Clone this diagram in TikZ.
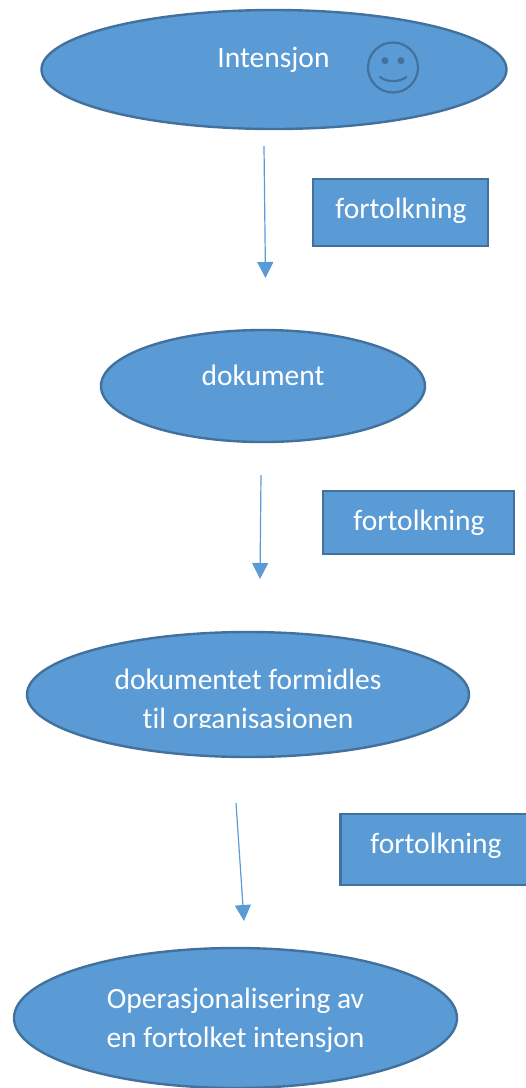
\documentclass[tikz,border=0pt]{standalone}
\usepackage{fontspec}
\setmainfont[Ligatures=NoCommon]{Carlito}
\usetikzlibrary{shapes.geometric,arrows.meta}

\definecolor{boxfill}{RGB}{91,155,213}
\definecolor{boxline}{RGB}{65,113,156}

\tikzset{
  oval/.style={ellipse,draw=boxline,fill=boxfill,line width=2.4pt,inner sep=0pt},
  tag/.style={rectangle,draw=boxline,fill=boxfill,line width=2.4pt,inner sep=0pt},
  lab/.style={text=white,inner sep=0pt,font=\fontsize{29.5}{29.5}\selectfont,anchor=base},
  flow/.style={draw=boxfill,line width=1.2pt,-{Triangle[length=16pt,width=16pt]}},
  face/.style={draw=boxline,line width=2.2pt}
}

\begin{document}
\begin{tikzpicture}[x=1pt,y=1pt,yscale=-1,xscale=1]
\useasboundingbox (0,0) rectangle (526,1088);

% ovals
\node [oval,minimum width=465pt,minimum height=119pt] (intensjon) at (274,69.5) {};
\node [oval,minimum width=324pt,minimum height=112pt] (dokument) at (263,386) {};
\node [oval,minimum width=442pt,minimum height=125pt] (formidles) at (248,694.5) {};
\node [oval,minimum width=443pt,minimum height=140pt] (operasjon) at (235.5,1018) {};

% boxes
\node [tag,minimum width=175pt,minimum height=67pt] (tolk1) at (400.5,212.5) {};
\node [tag,minimum width=191pt,minimum height=63pt] (tolk2) at (418.5,522.5) {};
\node [tag,minimum width=200pt,minimum height=71pt] (tolk3) at (440.5,849.5) {};

% smiley
\draw [face] (393,67.5) circle (25);
\fill [boxline] (385,60.7) circle (3.5);
\fill [boxline] (401,60.7) circle (3.5);
\draw [face,line cap=round] (380,77) .. controls (387,82.5) and (399,82.5) .. (406.5,77);

% text
\node [lab] (t1) at (273.5,67) {Intensjon};
\node [lab] (t2) at (401,218) {fortolkning};
\node [lab] (t3) at (263,385) {dokument};
\node [lab] (t4) at (419,530) {fortolkning};
\node [lab] (t5) at (248,689) {dokumentet formidles};
\begin{scope}
\clip (100,700) rectangle (400,727);
\node [lab] (t6) at (248,728) {til organisasjonen};
\end{scope}
\node [lab] (t7) at (436,853) {fortolkning};
\node [lab] (t8) at (235.5,1008) {Operasjonalisering av};
\node [lab] (t9) at (235.5,1047) {en fortolket intensjon};

% arrows
\coordinate (a1) at (264,146);
\coordinate (b1) at (265.5,278);
\coordinate (a2) at (261,475);
\coordinate (b2) at (260,579);
\coordinate (a3) at (236,803);
\coordinate (b3) at (244,921);
\draw [flow] (a1) -- (b1);
\draw [flow] (a2) -- (b2);
\draw [flow] (a3) -- (b3);
\end{tikzpicture}
\end{document}
